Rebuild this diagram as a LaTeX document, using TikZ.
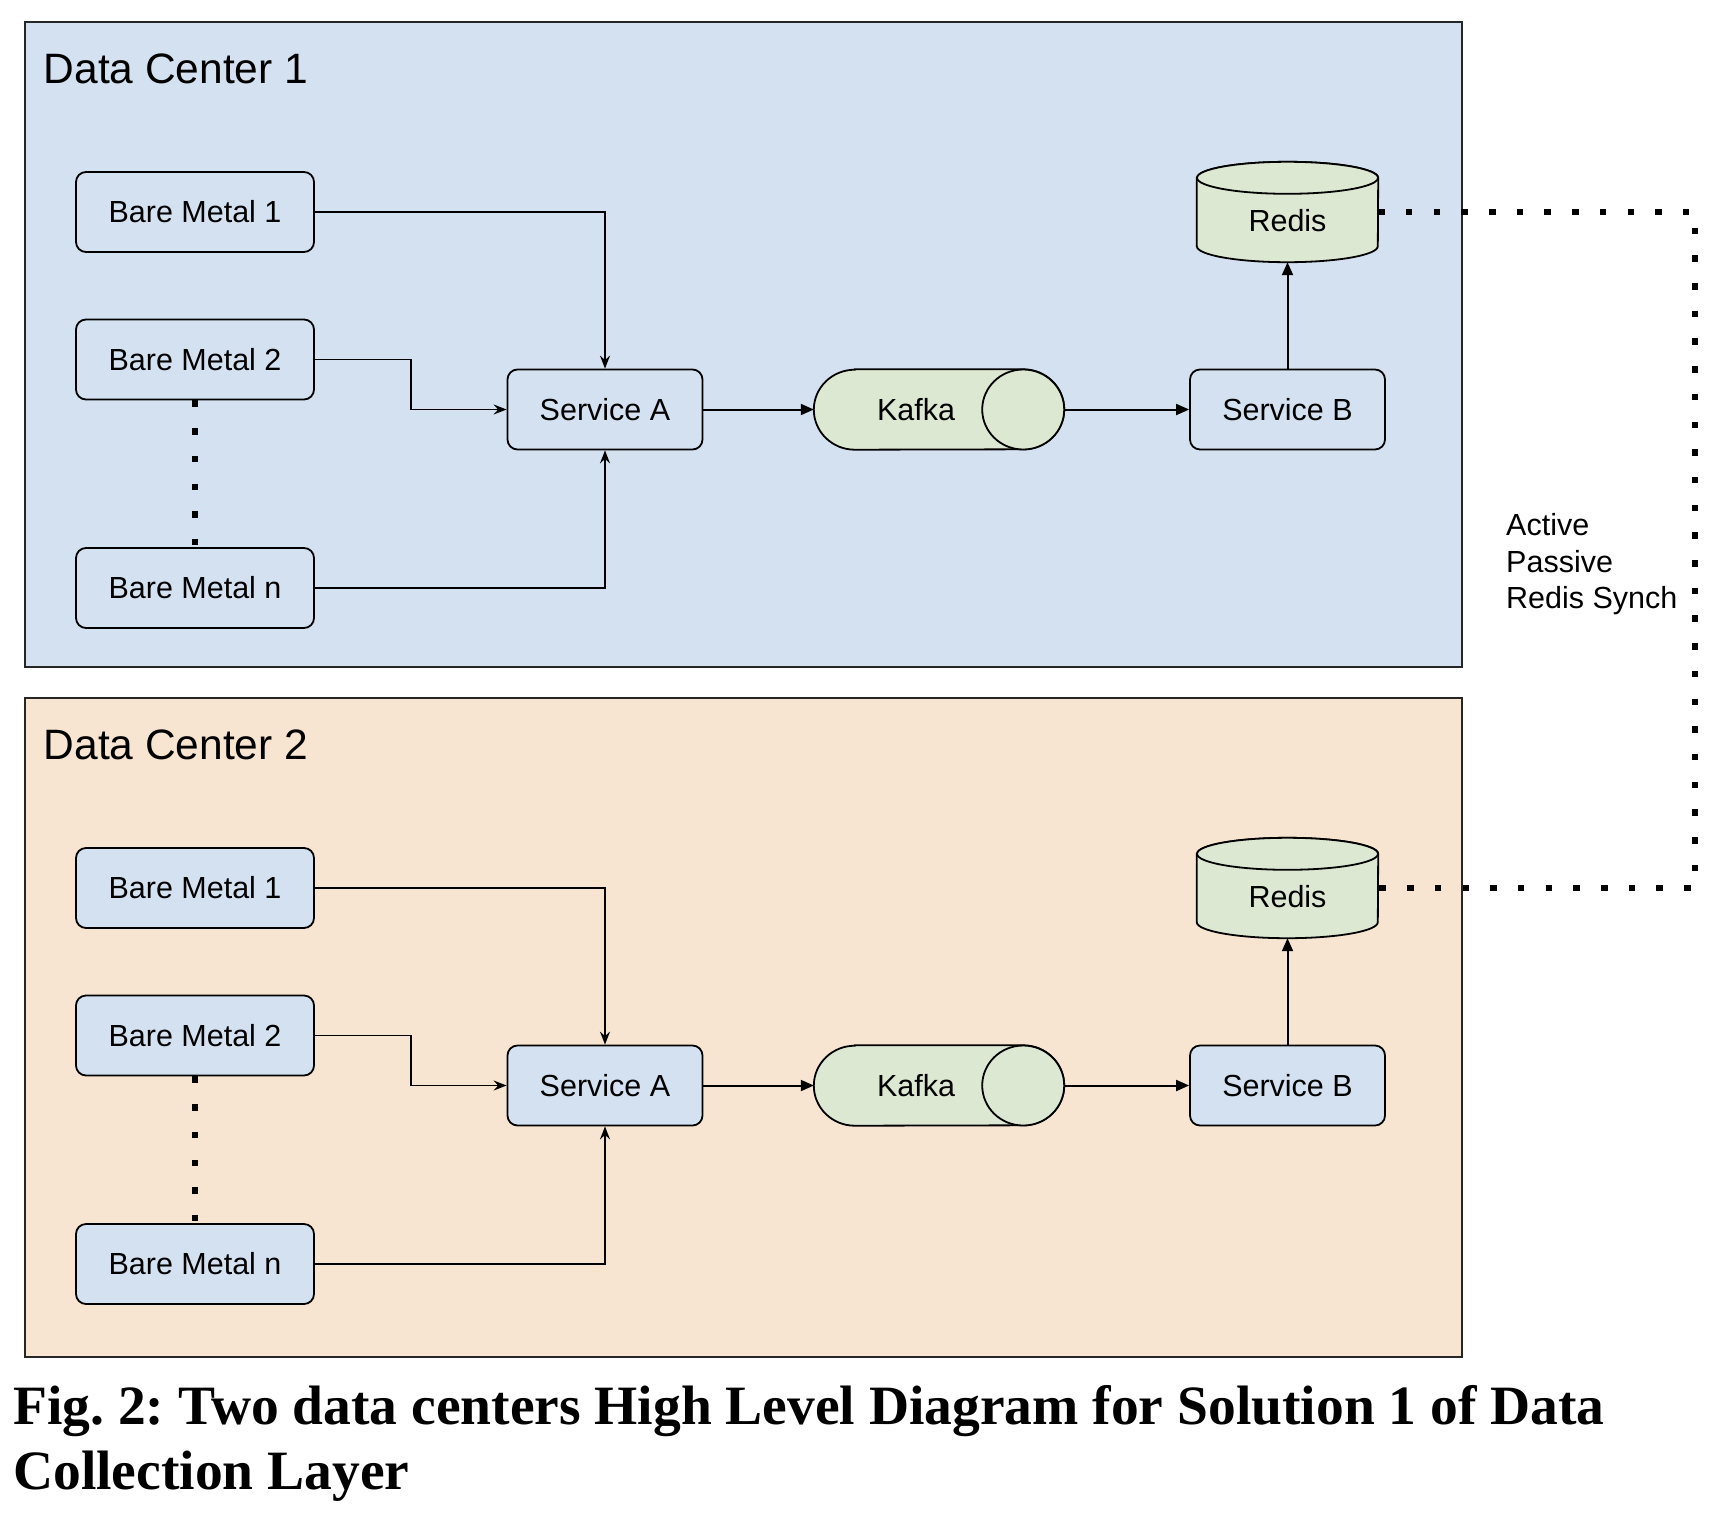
\documentclass[tikz,border=0pt]{standalone}
\usepackage{fontspec}
\setmainfont{Liberation Sans}
\newfontfamily\capfont{Liberation Serif}
\usetikzlibrary{arrows.meta,calc}
\pgfdeclarelayer{bg}\pgfdeclarelayer{mid}
\pgfsetlayers{bg,mid,main}
\definecolor{dcblue}{HTML}{D4E1F1}
\definecolor{dcpeach}{HTML}{F8E5D1}
\definecolor{kgreen}{HTML}{DDE8D3}
\frenchspacing
\tikzset{
  frame/.style={draw=black!85, line width=2pt, inner sep=0pt, minimum width=1437pt},
  dctitle/.style={anchor=base west, inner sep=0pt, font=\fontsize{42.5}{50}\selectfont},
  box/.style={draw=black, line width=1.8pt, rounded corners=10pt, fill=dcblue, inner sep=0pt, minimum height=80pt, font=\fontsize{30.5}{36}\selectfont},
  bmbox/.style={box, minimum width=238pt},
  svbox/.style={box, minimum width=195pt},
  cylnode/.style={inner sep=0pt, font=\fontsize{30.5}{36}\selectfont},
  cylline/.style={draw=black, line width=1.8pt, fill=kgreen},
  feed/.style={draw=black, line width=1.6pt, -{Stealth[length=13pt,width=10pt,inset=4.5pt]}},
  flow/.style={draw=black, line width=2pt, -{Triangle[length=13pt,width=11pt]}},
  dots/.style={draw=black, line width=6.5pt, dash pattern=on 6.5pt off 21.2pt},
  synctext/.style={anchor=base west, inner sep=0pt, font=\fontsize{30.5}{36}\selectfont},
  captext/.style={anchor=base west, inner sep=0pt, font=\capfont\bfseries\fontsize{55.5}{65}\selectfont},
}
\newcommand{\DCblock}[5]{%
\begin{scope}[yshift=-#2pt]
  \begin{pgfonlayer}{bg}
    \node[frame, fill=#3, minimum height=#5pt, anchor=north west] (#1frame) at (24,21) {};
  \end{pgfonlayer}
  \node[dctitle] (#1title) at (43.5,83) {#4};
  \node[bmbox] (#1bm1) at (195,212) {Bare Metal 1};
  \node[bmbox] (#1bm2) at (195,359.5) {Bare Metal 2};
  \node[bmbox] (#1bmn) at (195,588) {Bare Metal n};
  \node[svbox] (#1sa) at (605,409.5) {Service A};
  \node[svbox] (#1sb) at (1287.5,409.5) {Service B};
  \node[cylnode, minimum width=250pt, minimum height=80pt] (#1kafka) at (939,409.5) {\hspace*{-46pt}Kafka};
  \node[cylnode, minimum width=181pt, minimum height=100pt,
        label={[cylnode, yshift=-9pt]center:Redis}] (#1redis) at (1287.5,212) {};
  \begin{pgfonlayer}{mid}
    \draw[cylline] ([xshift=41pt]#1kafka.north west) -- ([xshift=-41pt]#1kafka.north east)
      arc[start angle=90,end angle=-90,x radius=41pt,y radius=40pt]
      -- ([xshift=41pt]#1kafka.south west)
      arc[start angle=270,end angle=90,x radius=41pt,y radius=40pt] -- cycle;
    \draw[cylline] ([xshift=-41pt]#1kafka.east) ellipse[x radius=41pt,y radius=40pt];
    \draw[cylline] ([yshift=-16pt]#1redis.north west) -- ([yshift=16pt]#1redis.south west)
      arc[start angle=180,end angle=360,x radius=90.5pt,y radius=16pt]
      -- ([yshift=-16pt]#1redis.north east)
      arc[start angle=0,end angle=180,x radius=90.5pt,y radius=16pt] -- cycle;
    \draw[cylline] ([yshift=-16pt]#1redis.north) ellipse[x radius=90.5pt,y radius=16pt];
  \end{pgfonlayer}
  \draw[feed] (#1bm1.east) -| (#1sa.north);
  \draw[feed] (#1bm2.east) -- ($(#1bm2.east)!.5!(#1bm2.east -| #1sa.west)$) |- (#1sa.west);
  \draw[feed] (#1bmn.east) -| (#1sa.south);
  \draw[flow] (#1sa.east) -- (#1kafka.west);
  \draw[flow] (#1kafka.east) -- (#1sb.west);
  \draw[flow] (#1sb.north) -- (#1redis.south);
  \draw[dots] (#1bm2.south) -- (#1bmn.north);
\end{scope}}
\begin{document}
\begin{tikzpicture}[x=1pt,y=-1pt]
  \useasboundingbox (0,0) rectangle (1720,1518);
  \begin{pgfonlayer}{bg}
    \fill[white] (0,0) rectangle (1720,1518);
  \end{pgfonlayer}
  \DCblock{a}{0}{dcblue}{Data Center 1}{645}
  \DCblock{b}{676}{dcpeach}{Data Center 2}{659}
  \coordinate (syncx) at (1695,550);
  \draw[dots] (aredis.east) -| (syncx) |- (bredis.east);
  \node[synctext] (sync1) at (1506,535) {Active};
  \node[synctext] (sync2) at (1506,572) {Passive};
  \node[synctext] (sync3) at (1506,608) {Redis Synch};
  \node[captext] (cap1) at (13,1424) {Fig. 2: Two data centers High Level Diagram for Solution 1 of Data};
  \node[captext] (cap2) at (13,1489) {Collection Layer};
\end{tikzpicture}
\end{document}
